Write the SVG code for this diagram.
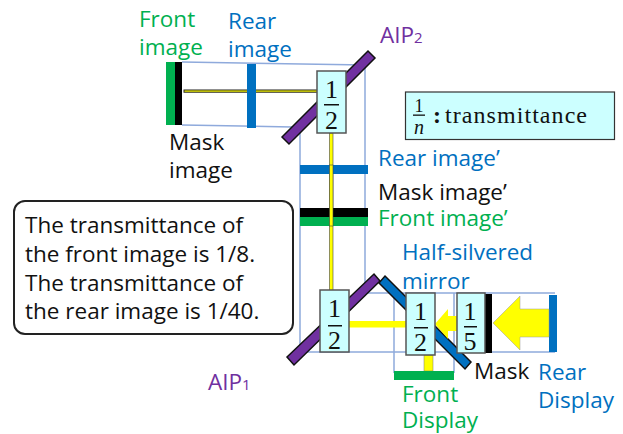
<svg xmlns="http://www.w3.org/2000/svg" width="623" height="434" viewBox="0 0 623 434">
<style>
text{font-family:"Open Sans","Noto Sans","Liberation Sans",sans-serif;font-size:22.5px}
.g{fill:#00B050}.b{fill:#0070C0}.k{fill:#111}.p{fill:#7030A0}
.thin{stroke:#8FAADC;stroke-width:1.5;fill:none}
.frac{fill:#CCFFFF;stroke:#555;stroke-width:1.5}
.m{font-family:"Liberation Serif","DejaVu Serif",serif;font-size:26px;fill:#111;text-anchor:middle}
.bar{stroke:#111;stroke-width:1.5}
.y{fill:#FFFF00}
</style>
<g id="connectors">
<path class="thin" d="M182 62L365 65V293M182 125L292 127M300 128V352H555M366 293H555M394 293V373M454 293V373"/>
<rect x="184" y="90" width="134" height="2.200" fill="#FFFF00" stroke="#222" stroke-width="1"/>
<rect x="329.500" y="133" width="3.500" height="158" fill="#FFFF00" stroke="#444" stroke-width="0.6"/>
<rect x="349" y="321" width="57" height="6.500" class="y"/>
<rect x="424" y="355" width="9" height="16" fill="#FFFF00" stroke="#777" stroke-width="0.5"/>
</g>
<g id="front-image"><rect x="166" y="62" width="9" height="63" class="g"/><rect x="175" y="62" width="7" height="63" fill="#000"/></g>
<rect id="rear-image" x="247" y="64" width="9" height="64" class="b"/>
<polygon id="aip2" class="p bar" points="282,137 368,51 375,58 289,144"/>
<g id="frac-top"><rect class="frac" x="317" y="71" width="29" height="62"/><text class="m" x="331.500" y="98">1</text><rect x="324" y="104" width="15" height="1.500" fill="#111"/><text class="m" x="331.500" y="129">2</text></g>
<rect id="rear-image-prime" x="300" y="165" width="68" height="9" class="b"/>
<rect id="mask-image-prime" x="300" y="208" width="68" height="9" fill="#000"/>
<rect id="front-image-prime" x="300" y="217" width="68" height="9" class="g"/>
<rect x="329.500" y="165" width="3.500" height="61" fill="#FFFF00" stroke="#444" stroke-width="0.6"/>
<polygon id="half-mirror" class="b bar" points="385,276 471,362 465,369 379,283"/>
<polygon id="aip1" class="p bar" points="287,357 374,274 380,281 294,365"/>
<g id="rear-display"><rect x="549" y="295" width="8" height="57" class="b"/></g>
<polygon id="big-arrow" class="y" stroke="#999" stroke-width="0.5" points="493,323 520,296 520,309 549,309 549,337 520,337 520,350"/>
<rect id="mask" x="485" y="294" width="7" height="59" fill="#000"/>
<polygon id="small-arrow" class="y" points="435,324 448,309 448,316 458,316 458,331 448,331 448,339"/>
<g id="frac-left"><rect class="frac" x="320" y="290" width="29" height="62"/><text class="m" x="334.500" y="317">1</text><rect x="328" y="325" width="14" height="1.500" fill="#111"/><text class="m" x="334.500" y="349">2</text></g>
<g id="frac-mid"><rect class="frac" x="406" y="293" width="29" height="62"/><text class="m" x="420.500" y="320">1</text><rect x="414" y="327" width="14" height="1.500" fill="#111"/><text class="m" x="420.500" y="351">2</text></g>
<g id="frac-right"><rect class="frac" x="457" y="293" width="28" height="60"/><text class="m" x="470" y="320">1</text><rect x="464" y="326" width="13" height="1.500" fill="#111"/><text class="m" x="470" y="350">5</text></g>
<rect id="front-display" x="394" y="371" width="60" height="9" class="g"/>
<g id="legend"><rect x="405.500" y="92" width="209" height="47.500" fill="#CCFFFF" stroke="#333" stroke-width="1.200"/>
<text x="419" y="112" style="font-family:'Liberation Serif',serif;font-size:18px;text-anchor:middle" fill="#111">1</text><rect x="413" y="114.500" width="12" height="1.300" fill="#111"/><text x="419" y="134" style="font-family:'Liberation Serif',serif;font-size:20px;font-style:italic;text-anchor:middle" fill="#111">n</text>
<text x="433" y="123" style="font-family:'Liberation Serif',serif;font-size:24px;font-weight:bold" fill="#111">:</text>
<text x="445" y="123" textLength="142" lengthAdjust="spacing" style="font-family:'Liberation Serif',serif;font-size:24px" fill="#111">transmittance</text></g>
<g id="note"><rect x="14" y="201" width="279" height="133" rx="11" fill="#fff" stroke="#222" stroke-width="2"/>
<text class="k" x="25" y="233">The transmittance of</text><text class="k" x="25" y="262">the front image is 1/8.</text><text class="k" x="25" y="291">The transmittance of</text><text class="k" x="25" y="319">the rear image is 1/40.</text></g>
<g id="labels">
<text class="g" x="139" y="27">Front</text><text class="g" x="139" y="55">image</text>
<text class="b" x="228" y="29">Rear</text><text class="b" x="228" y="57">image</text>
<text class="k" x="169" y="150">Mask</text><text class="k" x="169" y="178">image</text>
<text class="p" x="380" y="43">AIP<tspan font-size="15">2</tspan></text>
<text class="b" x="378" y="166">Rear image’</text>
<text class="k" x="378" y="200">Mask image’</text>
<text class="g" x="378" y="226">Front image’</text>
<text class="b" x="402" y="260">Half-silvered</text>
<text class="b" x="402" y="289">mirror</text>
<text class="p" x="208" y="390">AIP<tspan font-size="15">1</tspan></text>
<text class="k" x="474" y="379">Mask</text>
<text class="b" x="538" y="380">Rear</text><text class="b" x="538" y="408">Display</text>
<text class="g" x="402" y="402">Front</text><text class="g" x="402" y="428">Display</text>
</g>
</svg>
